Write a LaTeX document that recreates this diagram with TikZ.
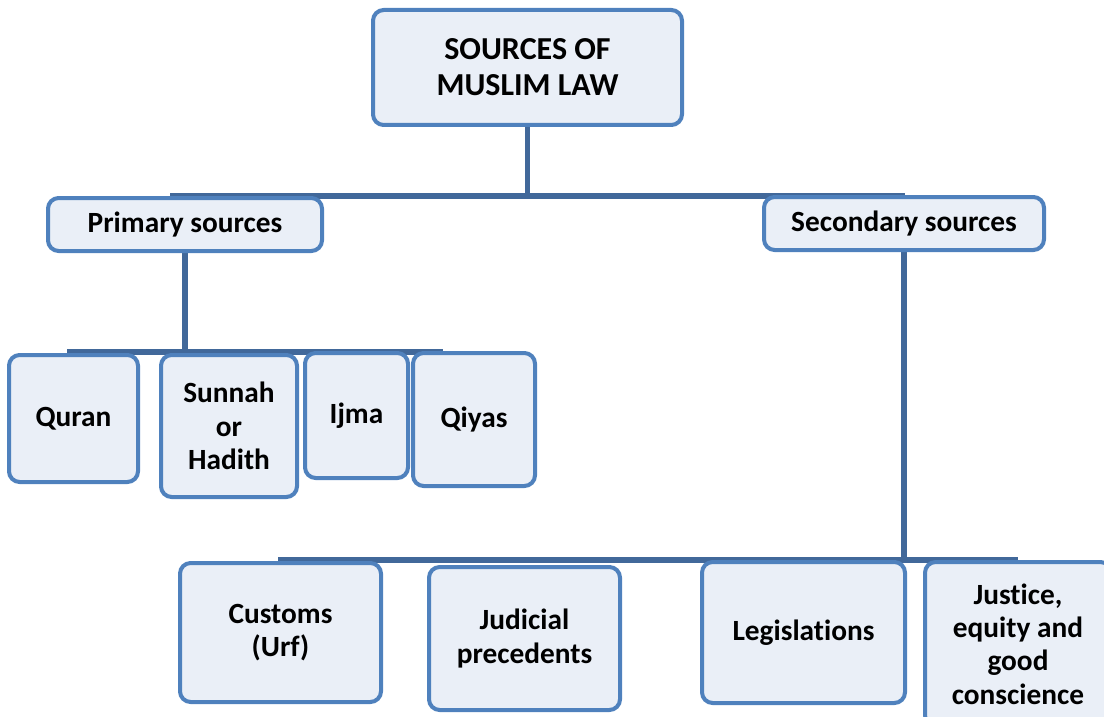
\documentclass[tikz,border=0pt]{standalone}
\usepackage{fontspec}
\setmainfont{Carlito}[Ligatures=CommonOff,RawFeature=-calt]
\usepackage{xcolor}
\usepackage{tikz}
\usetikzlibrary{backgrounds}
\definecolor{boxline}{HTML}{4F81BD}
\definecolor{boxfill}{HTML}{EAEFF7}
\definecolor{linkline}{HTML}{41689A}

\begin{document}
\begin{tikzpicture}[x=0.75pt,y=-0.75pt]
\tikzstyle{every node}+=[inner sep=0pt]
\tikzstyle{srcbox}=[draw=boxline,fill=boxfill,line width=3pt,rounded corners=8pt,
  align=center,font=\fontsize{22}{25}\selectfont\bfseries]
\tikzstyle{link}=[draw=linkline,line width=3.8pt]
\useasboundingbox (0,0) rectangle (1104,717);
\clip (0,0) rectangle (1104,717);
\node [srcbox,minimum width=231.75pt,minimum height=86.25pt,
  font=\fontsize{24}{27}\selectfont\bfseries] (top) at (527.5,67.5) {SOURCES OF\\MUSLIM LAW};
\node [srcbox,minimum width=205.5pt,minimum height=39.75pt] (prim) at (185,224.5) {Primary sources};
\node [srcbox,minimum width=210pt,minimum height=39.75pt] (sec) at (904,223.5) {Secondary sources};
\node [srcbox,minimum width=96.75pt,minimum height=95.25pt] (quran) at (73.5,418.5) {Quran};
\node [srcbox,minimum width=102pt,minimum height=106.5pt] (sunnah) at (229,426) {Sunnah\\or\\Hadith};
\node [srcbox,minimum width=77.25pt,minimum height=93.75pt] (ijma) at (356.5,415.5) {Ijma};
\node [srcbox,minimum width=91.5pt,minimum height=99.75pt] (qiyas) at (474,419.5) {Qiyas};
\node [srcbox,minimum width=150.75pt,minimum height=104.25pt] (customs) at (280.5,632.5) {Customs\\(Urf)};
\node [srcbox,minimum width=143.25pt,minimum height=107.25pt] (judicial) at (524.5,638.5) {Judicial\\precedents};
\node [srcbox,minimum width=152.25pt,minimum height=105.75pt] (legis) at (803.5,632.5) {Legislations};
\node [srcbox,minimum width=139.5pt,minimum height=123pt] (justice) at (1018,644) {Justice,\\equity and\\good\\conscience};
\coordinate (topw) at (170,196);
\coordinate (tope) at (905,196);
\coordinate (primw) at (67,352);
\coordinate (prime) at (443,352);
\coordinate (secw) at (278,560);
\coordinate (sece) at (1018,560);
\begin{pgfonlayer}{background}
\draw [link] (top.south) -- (top.south |- topw);
\draw [link] (topw) -- (tope);
\draw [link] (prim.south) -- (prim.south |- primw);
\draw [link] (primw) -- (prime);
\draw [link] (sec.south) -- (sec.south |- secw);
\draw [link] (secw) -- (sece);
\end{pgfonlayer}
\end{tikzpicture}
\end{document}
